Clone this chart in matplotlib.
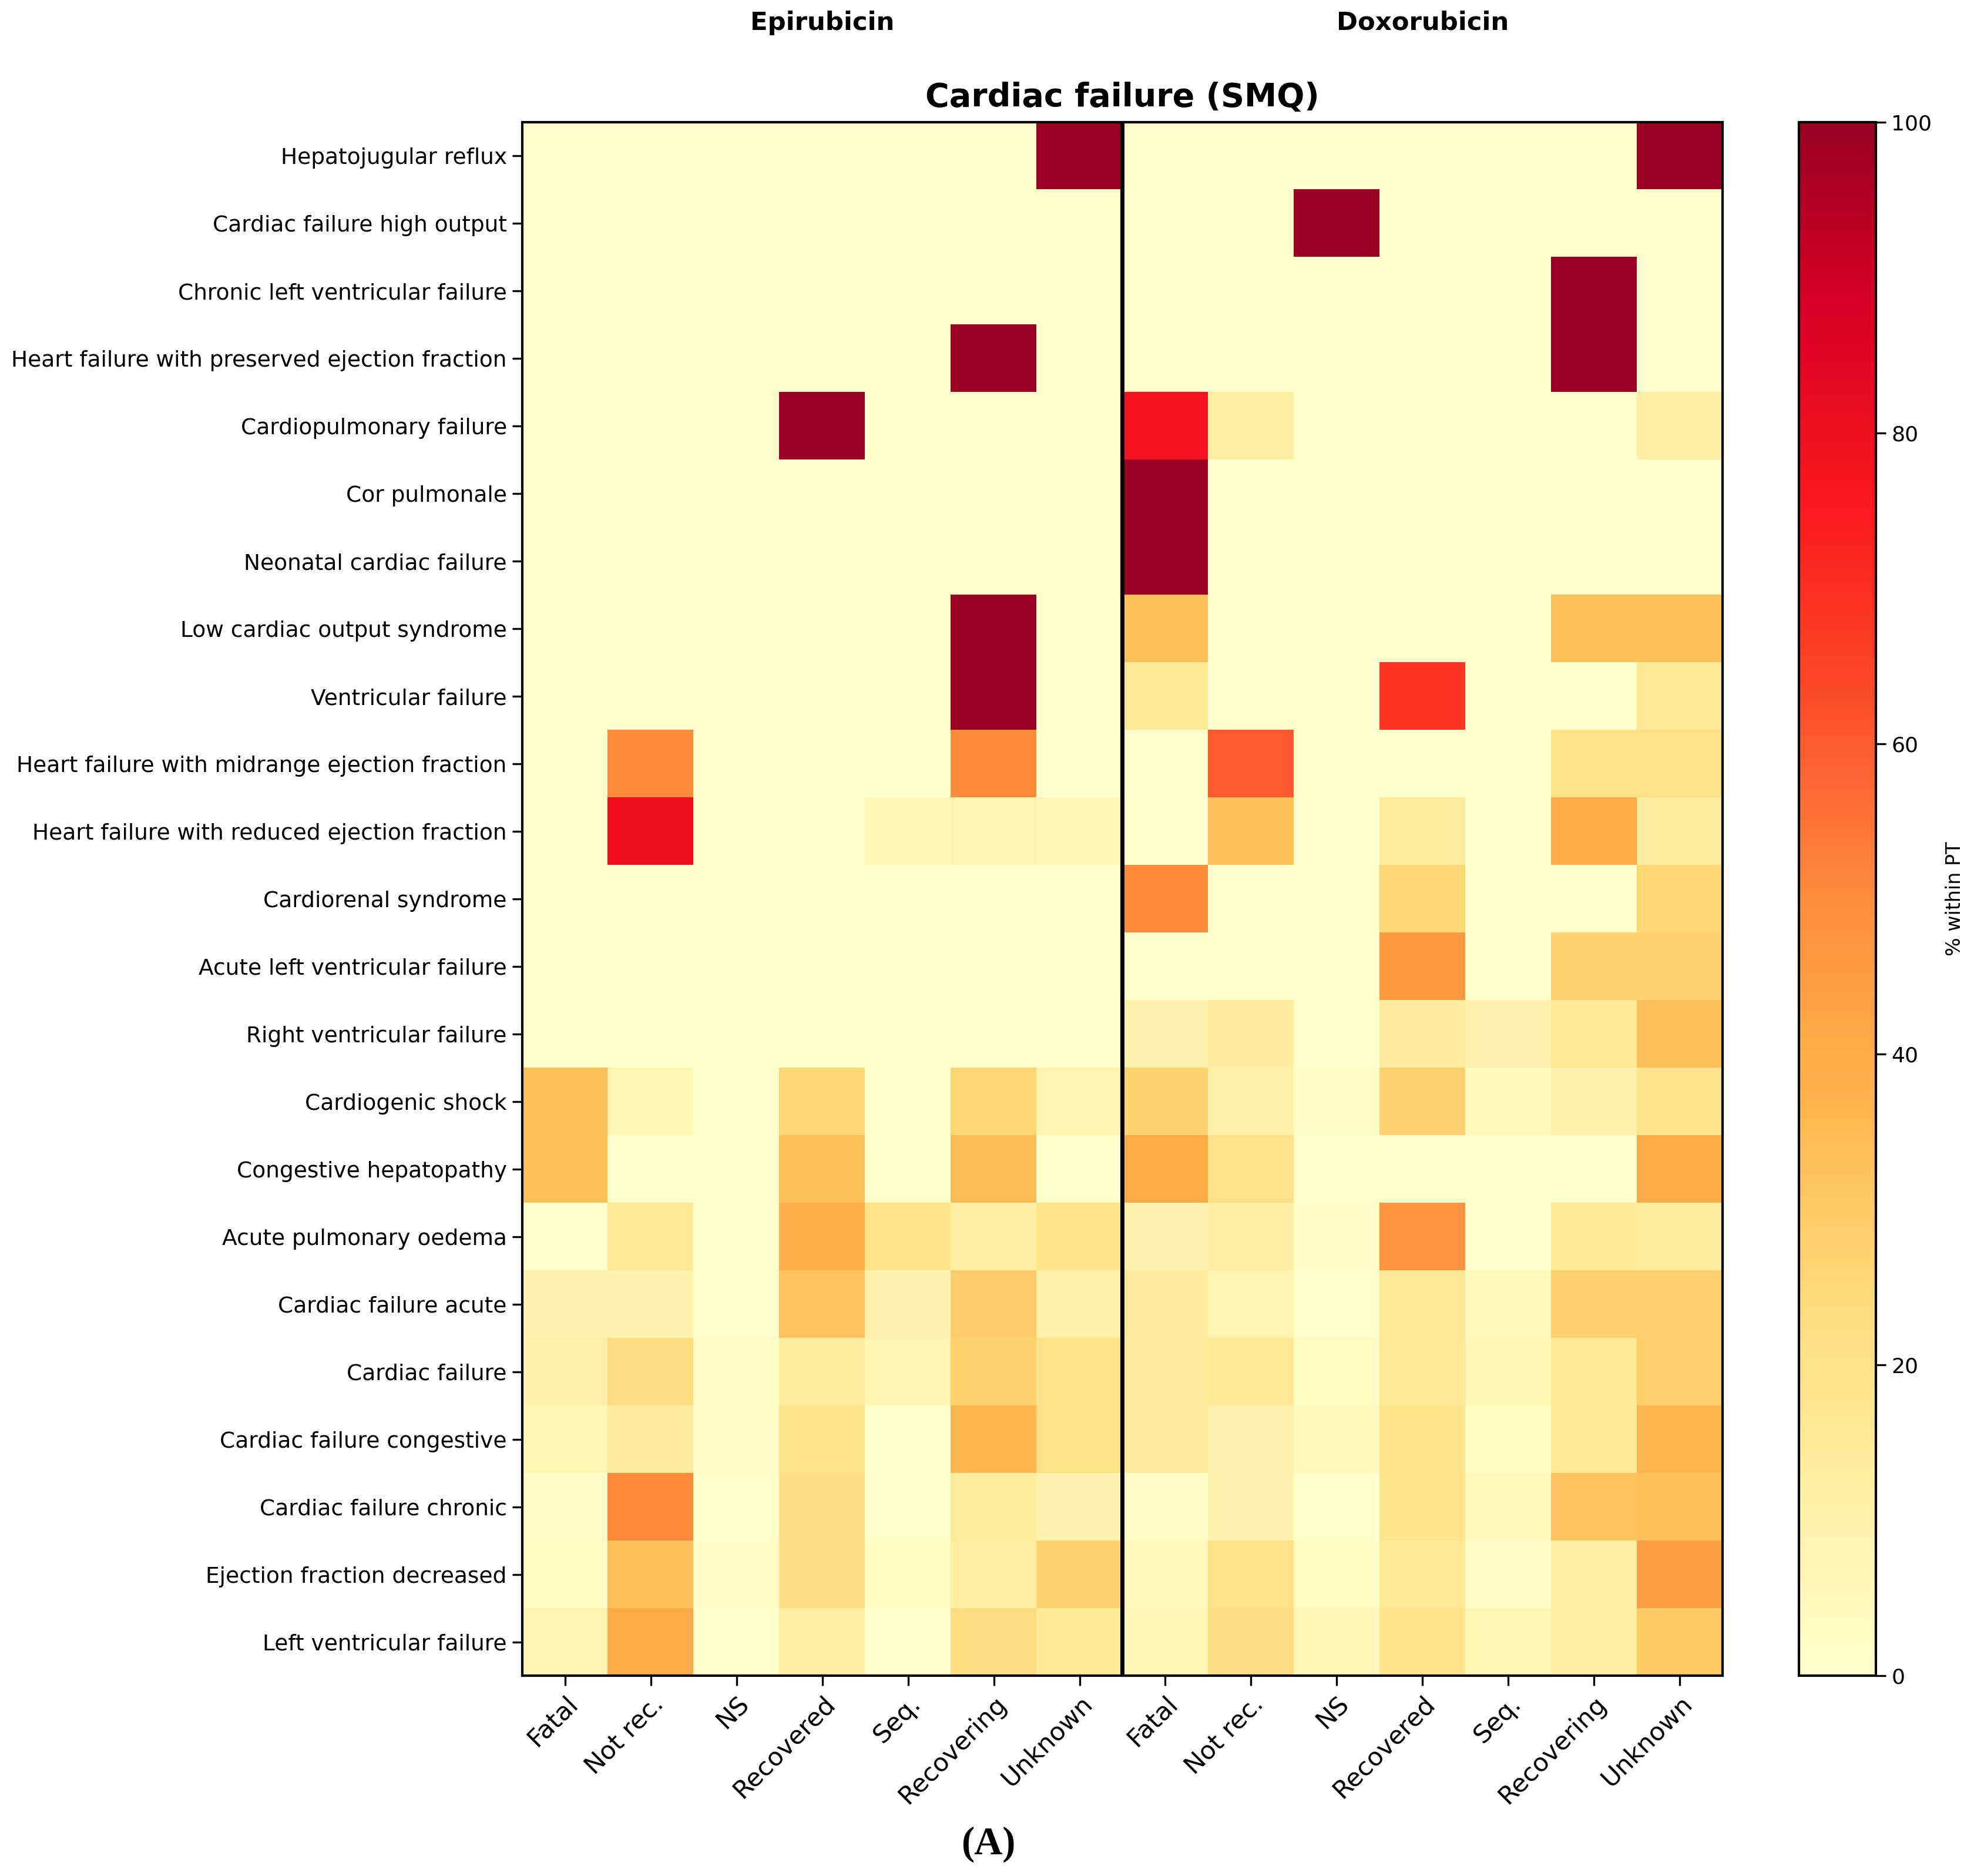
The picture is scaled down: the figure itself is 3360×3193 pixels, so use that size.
"""Outcome heatmap for Cardiac failure (SMQ): Epirubicin vs Doxorubicin."""
import numpy as np
import matplotlib
matplotlib.use("Agg")
import matplotlib.pyplot as plt
from matplotlib.colors import LinearSegmentedColormap

pts = [
    "Hepatojugular reflux", "Cardiac failure high output", "Chronic left ventricular failure",
    "Heart failure with preserved ejection fraction", "Cardiopulmonary failure", "Cor pulmonale",
    "Neonatal cardiac failure", "Low cardiac output syndrome", "Ventricular failure",
    "Heart failure with midrange ejection fraction", "Heart failure with reduced ejection fraction",
    "Cardiorenal syndrome", "Acute left ventricular failure", "Right ventricular failure",
    "Cardiogenic shock", "Congestive hepatopathy", "Acute pulmonary oedema",
    "Cardiac failure acute", "Cardiac failure", "Cardiac failure congestive",
    "Cardiac failure chronic", "Ejection fraction decreased", "Left ventricular failure",
]
outcomes = ["Fatal", "Not rec.", "NS", "Recovered", "Seq.", "Recovering", "Unknown"]
drugs = ["Epirubicin", "Doxorubicin"]

# % within PT, columns follow `outcomes`
epirubicin = [
    [0, 0, 0, 0, 0, 0, 100],
    [0, 0, 0, 0, 0, 0, 0],
    [0, 0, 0, 0, 0, 0, 0],
    [0, 0, 0, 0, 0, 100, 0],
    [0, 0, 0, 100, 0, 0, 0],
    [0, 0, 0, 0, 0, 0, 0],
    [0, 0, 0, 0, 0, 0, 0],
    [0, 0, 0, 0, 0, 100, 0],
    [0, 0, 0, 0, 0, 100, 0],
    [0, 50, 0, 0, 0, 50, 0],
    [0, 80, 0, 0, 6, 8, 6],
    [0, 0, 0, 0, 0, 0, 0],
    [0, 0, 0, 0, 0, 0, 0],
    [0, 0, 0, 0, 0, 0, 0],
    [33, 7, 0, 25, 0, 26, 8],
    [33, 0, 0, 33, 0, 34, 0],
    [0, 15, 0, 38, 18, 12, 18],
    [9, 9, 1, 32, 9, 29, 10],
    [10, 22, 2, 13, 8, 27, 20],
    [7, 14, 2, 20, 0, 36, 20],
    [2, 50, 1, 22, 1, 13, 9],
    [3, 33, 2, 22, 3, 12, 27],
    [8, 40, 1, 12, 1, 22, 15],
]
doxorubicin = [
    [0, 0, 0, 0, 0, 0, 100],
    [0, 0, 100, 0, 0, 0, 0],
    [0, 0, 0, 0, 0, 100, 0],
    [0, 0, 0, 0, 0, 100, 0],
    [78, 12, 0, 0, 0, 0, 11],
    [100, 0, 0, 0, 0, 0, 0],
    [100, 0, 0, 0, 0, 0, 0],
    [33, 0, 0, 0, 0, 33, 33],
    [16, 0, 0, 68, 0, 0, 16],
    [0, 60, 0, 0, 0, 20, 20],
    [0, 33, 0, 13, 0, 40, 13],
    [50, 0, 0, 25, 0, 0, 25],
    [0, 0, 0, 46, 0, 27, 27],
    [9, 14, 0, 14, 9, 15, 33],
    [27, 10, 2, 27, 4, 10, 18],
    [40, 20, 0, 0, 0, 0, 40],
    [9, 12, 2, 48, 1, 15, 13],
    [14, 8, 1, 16, 5, 28, 28],
    [14, 15, 3, 16, 6, 16, 28],
    [14, 9, 5, 18, 3, 16, 36],
    [2, 9, 1, 18, 4, 32, 33],
    [4, 20, 3, 15, 2, 12, 44],
    [6, 22, 6, 18, 7, 12, 30],
]

cmap = LinearSegmentedColormap.from_list(
    "ylorrd_bright",
    ["#ffffcc", "#ffeda0", "#fed976", "#feb24c", "#fd8d3c",
     "#fc4e2a", "#fc1a1c", "#dc0025", "#990022"])

data = np.hstack([np.array(epirubicin), np.array(doxorubicin)])
ncol = data.shape[1]

fig = plt.figure(figsize=(16.8, 15.965), dpi=200)
ax = fig.add_axes([0.2646, 0.1068, 0.608, 0.8281])
cax = fig.add_axes([0.9113, 0.1068, 0.039, 0.8281])

im = ax.imshow(data, cmap=cmap, vmin=0, vmax=100, aspect="auto", interpolation="nearest")
ax.axvline(len(outcomes) - 0.5, color="black", lw=2.5)

ax.set_yticks(range(len(pts)))
ax.set_yticklabels(pts, fontsize=13.5)
ax.set_xticks(range(ncol))
ax.set_xticklabels(outcomes * 2, fontsize=15.5, rotation=45, ha="right",
                   rotation_mode="anchor")
ax.tick_params(length=6, width=1.2)
for s in ax.spines.values():
    s.set_linewidth(1.5)

cb = fig.colorbar(im, cax=cax, ticks=[0, 20, 40, 60, 80, 100])
cb.ax.tick_params(labelsize=13, length=6, width=1.2)
cb.outline.set_linewidth(1.5)
cb.set_label("% within PT", fontsize=12, labelpad=8)

cx = 0.2646 + 0.608 / 2
fig.text(cx, 0.948, "Cardiac failure (SMQ)", ha="center", va="center",
         fontsize=20, fontweight="bold")
for i, d in enumerate(drugs):
    fig.text(0.2646 + 0.608 * (0.25 + 0.5 * i), 0.9878, d, ha="center", va="center",
             fontsize=15.6, fontweight="bold")
fig.text(0.5006, 0.017, "(A)", ha="center", va="center", fontsize=24,
         fontweight="bold", family="Liberation Serif")

fig.savefig("out.png", dpi=200)
print("wrote out.png")
